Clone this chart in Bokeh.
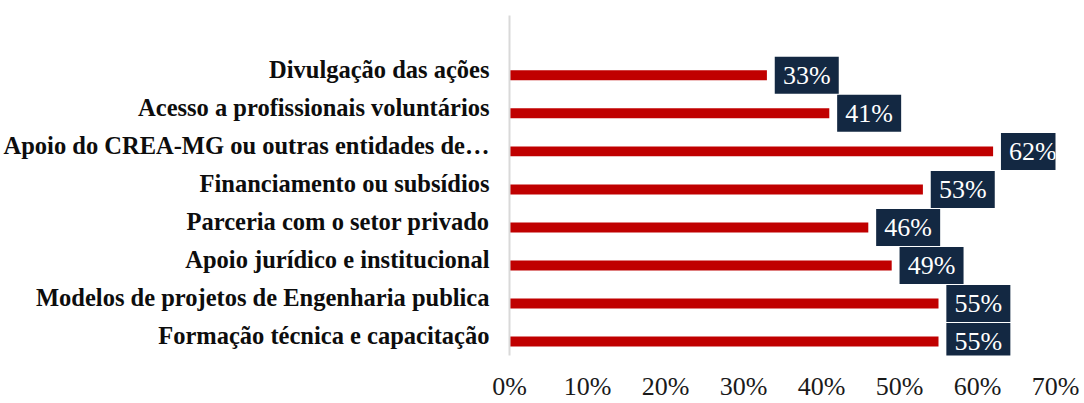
from bokeh.plotting import figure
from bokeh.models import Range1d, FixedTicker, NumeralTickFormatter, ColumnDataSource
from bokeh.core.properties import value
from bokeh.embed import file_html
from bokeh.resources import INLINE

# Data (bottom to top)
categories = [
    "Formação técnica e capacitação",
    "Modelos de projetos de Engenharia publica",
    "Apoio jurídico e institucional",
    "Parceria com o setor privado",
    "Financiamento ou subsídios",
    "Apoio do CREA-MG ou outras entidades de…",
    "Acesso a profissionais voluntários",
    "Divulgação das ações",
]
values = [0.55, 0.55, 0.49, 0.46, 0.53, 0.62, 0.41, 0.33]
value_labels = ["55%", "55%", "49%", "46%", "53%", "62%", "41%", "33%"]
x_ticks = [0, 0.1, 0.2, 0.3, 0.4, 0.5, 0.6, 0.7]

positions = list(range(len(categories)))

W, H = 1082, 403
ML, MR, MT, MB = 507, 27, 15, 47
frame_w = W - ML - MR
frame_h = H - MT - MB
px_per_unit = frame_w / 0.70
y_lo, y_hi = -0.367, 8.573
px_per_cat = frame_h / (y_hi - y_lo)
box_centers = [v + 40 / px_per_unit for v in values]

src = ColumnDataSource(dict(y=positions, v=values, xc=box_centers, lab=value_labels))

p = figure(width=W, height=H, output_backend="svg", toolbar_location=None,
           x_range=Range1d(0, 0.70), y_range=Range1d(y_lo, y_hi),
           min_border_left=ML, min_border_right=MR, min_border_top=MT, min_border_bottom=MB)
p.outline_line_color = None
p.xgrid.grid_line_color = None
p.ygrid.grid_line_color = None
p.background_fill_color = "white"

p.hbar(y="y", right="v", left=0, height=10 / px_per_cat, source=src,
       fill_color="#c00000", line_color=None)
p.rect(x="xc", y="y", width=64, height=37, width_units="screen", height_units="screen",
       source=src, fill_color="#132842", line_color=None)
p.text(x="xc", y="y", text="lab", source=src, text_align="center", text_baseline="middle",
       text_font=value("Liberation Serif"), text_font_size="26px", text_color="#ffffff")

# x axis
xa = p.xaxis[0]
xa.ticker = FixedTicker(ticks=x_ticks)
xa.formatter = NumeralTickFormatter(format="0%")
xa.axis_line_color = None
xa.major_tick_line_color = None
xa.minor_tick_line_color = None
xa.major_tick_out = 0
xa.major_tick_in = 0
xa.major_label_standoff = 16
xa.major_label_text_font = "Liberation Serif"
xa.major_label_text_font_size = "26px"
xa.major_label_text_color = "#1a1a1a"

# y axis: category labels sit slightly above the bar centre, as in the original
label_shift = 6 / px_per_cat
ytick_pos = [i + label_shift for i in positions]
ya = p.yaxis[0]
ya.ticker = FixedTicker(ticks=ytick_pos)
ya.major_label_overrides = {t: c for t, c in zip(ytick_pos, categories)}
ya.axis_line_color = "#d9d9d9"
ya.axis_line_width = 2
ya.major_tick_line_color = None
ya.minor_tick_line_color = None
ya.major_tick_out = 0
ya.major_tick_in = 0
ya.major_label_standoff = 20
ya.major_label_text_font = "Liberation Serif"
ya.major_label_text_font_style = "bold"
ya.major_label_text_font_size = "24.5px"
ya.major_label_text_color = "#0d0d0d"

open("out.html", "w").write(file_html(p, INLINE))
